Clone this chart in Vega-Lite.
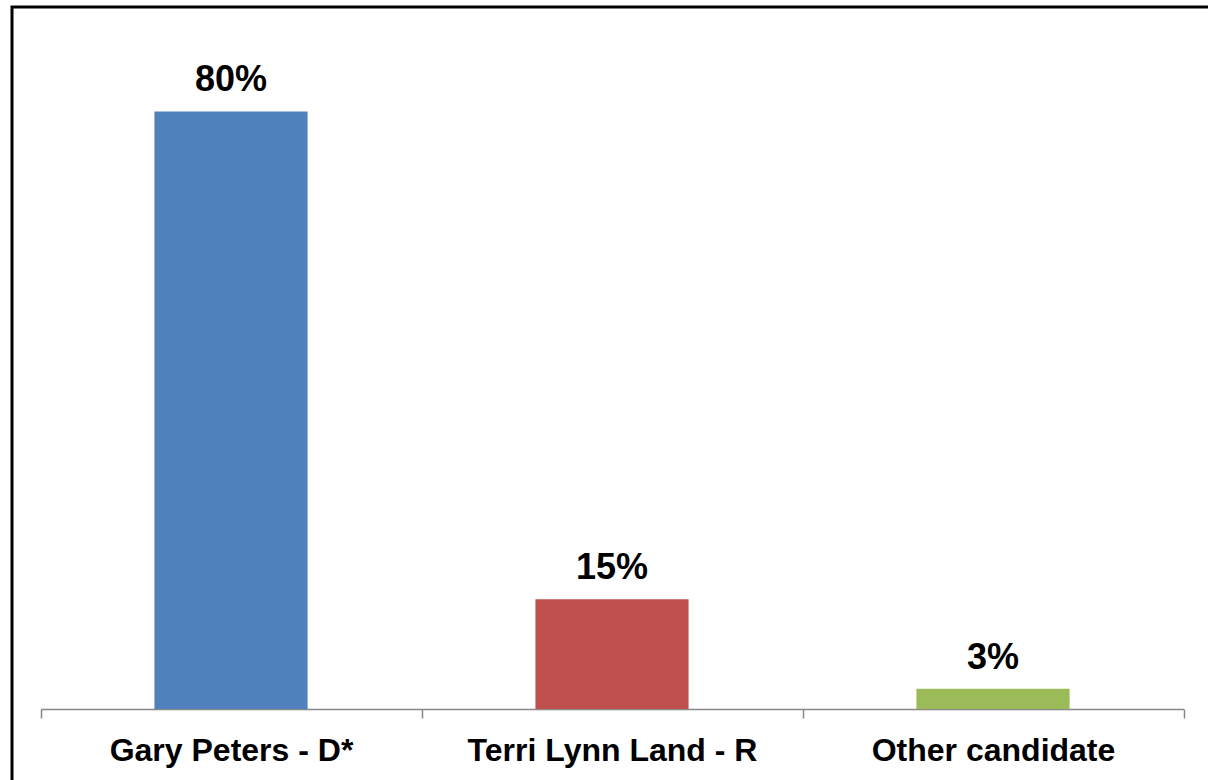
{
  "$schema": "https://vega.github.io/schema/vega-lite/v6.json",
  "autosize": "none",
  "padding": {"left": 12, "top": 7, "right": 0, "bottom": 0},
  "width": 1198,
  "height": 775,
  "background": "white",
  "config": {
    "view": {"stroke": "black", "strokeWidth": 3},
    "font": "Liberation Sans"
  },
  "data": {
    "values": [
      {"candidate": "Gary Peters - D*", "share": 0.80},
      {"candidate": "Terri Lynn Land - R", "share": 0.147},
      {"candidate": "Other candidate", "share": 0.027}
    ]
  },
  "encoding": {
    "x": {
      "field": "candidate",
      "type": "nominal",
      "sort": null,
      "scale": {"range": [28.5, 1171.5], "paddingInner": 0, "paddingOuter": 0},
      "axis": {
        "title": null,
        "labelAngle": 0,
        "labelLimit": 0,
        "labelFont": "Liberation Sans",
        "labelFontWeight": "bold",
        "labelFontSize": 32,
        "labelColor": "black",
        "labelBaseline": "alphabetic",
        "labelPadding": 42,
        "tickBand": "extent",
        "tickSize": 9,
        "tickColor": "#888888",
        "tickWidth": 1.5,
        "domainColor": "#888888",
        "domainWidth": 1.5,
        "offset": -73,
        "grid": false
      }
    },
    "y": {
      "field": "share",
      "type": "quantitative",
      "scale": {"domain": [0, 1], "range": [702, -45], "nice": false, "zero": true},
      "axis": null
    }
  },
  "layer": [
    {
      "mark": {"type": "bar", "width": {"band": 0.402}},
      "encoding": {
        "color": {
          "field": "candidate",
          "type": "nominal",
          "scale": {
            "domain": ["Gary Peters - D*", "Terri Lynn Land - R", "Other candidate"],
            "range": ["#4F81BD", "#C0504D", "#9BBB59"]
          },
          "legend": null
        }
      }
    },
    {
      "mark": {
        "type": "text",
        "baseline": "alphabetic",
        "align": "center",
        "dy": -20,
        "font": "Liberation Sans",
        "fontWeight": "bold",
        "fontSize": 36,
        "color": "black"
      },
      "encoding": {
        "text": {"field": "share", "type": "quantitative", "format": ".0%"}
      }
    }
  ]
}
